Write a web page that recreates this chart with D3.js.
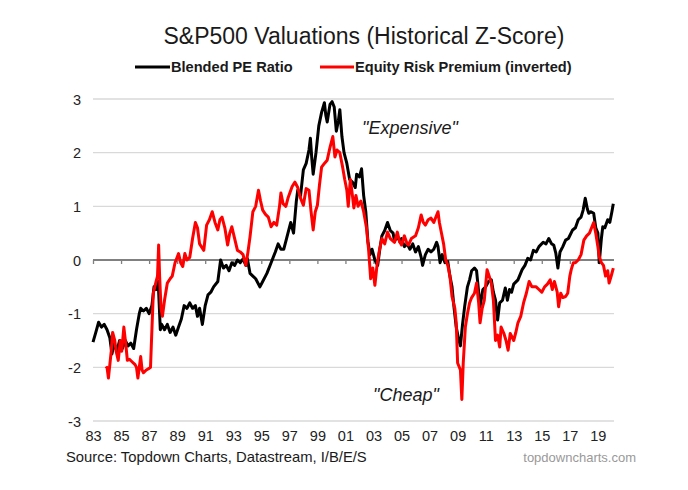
<!DOCTYPE html>
<html>
<head>
<meta charset="utf-8">
<script src="https://cdn.jsdelivr.net/npm/d3@7"></script>
<style>
  html, body { margin: 0; padding: 0; background: #fff; }
  svg { display: block; font-family: "Liberation Sans", Arial, sans-serif; }
</style>
</head>
<body>
<svg id="chart" width="688" height="490"></svg>
<script>
const title = "S&P500 Valuations (Historical Z-Score)";
const seriesNames = ["Blended PE Ratio", "Equity Risk Premium (inverted)"];
const seriesColors = ["#000000", "#ff0000"];
const yTicks = [-3, -2, -1, 0, 1, 2, 3];
const xTickYears = [1983, 1985, 1987, 1989, 1991, 1993, 1995, 1997, 1999, 2001, 2003, 2005, 2007, 2009, 2011, 2013, 2015, 2017, 2019];
const xTickLabels = ["83","85","87","89","91","93","95","97","99","01","03","05","07","09","11","13","15","17","19"];

const peDates = [1983.0,1983.2,1983.4,1983.6,1983.8,1984.0,1984.2,1984.35,1984.5,1984.7,1984.9,1985.1,1985.3,1985.5,1985.7,1985.9,1986.1,1986.3,1986.4,1986.6,1986.8,1987.0,1987.2,1987.35,1987.5,1987.65,1987.8,1987.9,1988.1,1988.3,1988.5,1988.7,1988.9,1989.1,1989.3,1989.5,1989.7,1989.9,1990.1,1990.3,1990.45,1990.6,1990.8,1991.0,1991.2,1991.4,1991.6,1991.9,1992.1,1992.3,1992.5,1992.7,1992.9,1993.1,1993.3,1993.5,1993.7,1993.9,1994.0,1994.2,1994.4,1994.6,1994.9,1995.1,1995.4,1995.7,1996.0,1996.2,1996.4,1996.6,1996.8,1997.1,1997.3,1997.5,1997.6,1997.8,1998.0,1998.2,1998.4,1998.5,1998.6,1998.7,1998.9,1999.1,1999.3,1999.5,1999.6,1999.7,1999.9,2000.05,2000.2,2000.35,2000.5,2000.6,2000.75,2000.9,2001.1,2001.3,2001.5,2001.7,2001.8,2002.0,2002.15,2002.3,2002.45,2002.6,2002.75,2002.9,2003.1,2003.3,2003.45,2003.6,2003.8,2004.0,2004.2,2004.4,2004.5,2004.7,2004.9,2005.0,2005.2,2005.4,2005.6,2005.8,2006.0,2006.2,2006.4,2006.5,2006.7,2006.9,2007.1,2007.3,2007.5,2007.6,2007.75,2007.9,2008.1,2008.3,2008.45,2008.6,2008.75,2008.9,2009.05,2009.2,2009.35,2009.5,2009.7,2009.85,2010.0,2010.2,2010.35,2010.5,2010.6,2010.8,2011.0,2011.2,2011.4,2011.55,2011.7,2011.85,2012.0,2012.2,2012.4,2012.55,2012.7,2012.85,2013.0,2013.3,2013.6,2013.8,2014.0,2014.2,2014.4,2014.6,2014.8,2015.1,2015.3,2015.5,2015.7,2015.85,2016.0,2016.15,2016.3,2016.5,2016.7,2016.9,2017.2,2017.4,2017.6,2017.8,2017.95,2018.1,2018.25,2018.35,2018.5,2018.7,2018.85,2019.0,2019.1,2019.25,2019.35,2019.5,2019.7,2019.85,2020.0,2020.1];
const peValues = [-1.53,-1.35,-1.16,-1.25,-1.2,-1.3,-1.45,-1.75,-1.55,-1.7,-1.5,-1.65,-1.5,-1.6,-1.55,-1.65,-1.3,-1.0,-0.9,-0.95,-0.9,-1.0,-0.85,-0.5,-0.55,-0.4,-1.3,-1.2,-1.3,-1.2,-1.35,-1.25,-1.4,-1.25,-1.1,-0.85,-0.9,-0.8,-0.9,-0.85,-1.05,-0.9,-1.2,-0.85,-0.65,-0.6,-0.5,-0.4,0.0,-0.15,-0.1,-0.2,-0.05,-0.1,0.0,-0.05,0.02,-0.1,0.03,-0.25,-0.3,-0.35,-0.5,-0.4,-0.25,-0.05,0.15,0.3,0.2,0.2,0.4,0.7,0.5,1.1,1.3,1.2,1.68,1.8,2.05,2.27,1.9,1.6,2.0,2.5,2.75,2.93,2.7,2.57,2.9,2.95,2.85,2.4,2.6,2.8,2.3,2.0,1.8,1.5,1.45,1.35,1.6,1.55,1.7,1.2,0.9,0.35,0.1,0.2,0.0,-0.1,0.2,0.45,0.55,0.7,0.55,0.5,0.35,0.45,0.33,0.4,0.25,0.3,0.2,0.3,0.15,0.25,0.05,-0.1,0.1,0.2,0.15,0.2,0.33,0.25,-0.05,0.1,-0.05,-0.03,-0.3,-0.5,-0.9,-1.25,-1.45,-1.6,-1.2,-0.87,-0.5,-0.37,-0.2,-0.15,-0.2,-0.6,-0.87,-0.55,-0.5,-0.4,-0.37,-0.6,-0.75,-1.12,-0.8,-0.75,-0.52,-0.75,-0.55,-0.6,-0.45,-0.37,-0.18,-0.1,0.03,0.0,0.18,0.15,0.25,0.33,0.3,0.4,0.3,0.28,0.13,-0.15,0.15,0.25,0.37,0.4,0.56,0.6,0.75,0.8,0.93,1.15,0.95,0.87,0.9,0.87,0.6,0.5,-0.05,0.4,0.62,0.6,0.75,0.7,0.9,1.05];

const erpDates = [1983.9,1984.0,1984.1,1984.3,1984.4,1984.55,1984.65,1984.8,1984.95,1985.05,1985.2,1985.35,1985.45,1985.6,1985.8,1986.0,1986.1,1986.2,1986.3,1986.4,1986.5,1986.6,1986.8,1987.0,1987.1,1987.2,1987.3,1987.5,1987.6,1987.68,1987.75,1987.85,1987.95,1988.1,1988.3,1988.5,1988.65,1988.85,1989.0,1989.1,1989.25,1989.4,1989.55,1989.7,1989.9,1990.1,1990.3,1990.45,1990.6,1990.9,1991.1,1991.3,1991.5,1991.7,1991.9,1992.05,1992.2,1992.4,1992.6,1992.75,1992.9,1993.1,1993.3,1993.5,1993.7,1993.9,1994.05,1994.2,1994.4,1994.6,1994.8,1994.95,1995.1,1995.3,1995.5,1995.7,1995.9,1996.1,1996.3,1996.4,1996.55,1996.75,1996.9,1997.2,1997.4,1997.6,1997.8,1998.0,1998.2,1998.4,1998.55,1998.7,1998.85,1999.0,1999.15,1999.3,1999.5,1999.7,1999.9,2000.1,2000.25,2000.4,2000.6,2000.8,2000.95,2001.1,2001.2,2001.35,2001.5,2001.6,2001.75,2001.9,2002.1,2002.3,2002.5,2002.65,2002.8,2002.95,2003.1,2003.25,2003.4,2003.6,2003.8,2004.0,2004.2,2004.5,2004.7,2004.85,2005.0,2005.2,2005.4,2005.5,2005.7,2006.0,2006.2,2006.4,2006.55,2006.7,2006.9,2007.1,2007.3,2007.45,2007.6,2007.7,2007.85,2008.0,2008.15,2008.3,2008.45,2008.6,2008.8,2008.9,2009.0,2009.2,2009.3,2009.4,2009.55,2009.7,2009.85,2010.0,2010.2,2010.35,2010.5,2010.6,2010.75,2010.9,2011.1,2011.25,2011.4,2011.55,2011.7,2011.85,2012.0,2012.1,2012.3,2012.45,2012.6,2012.75,2013.0,2013.15,2013.3,2013.5,2013.7,2013.9,2014.1,2014.3,2014.6,2014.8,2015.0,2015.2,2015.4,2015.6,2015.75,2015.9,2016.1,2016.2,2016.35,2016.5,2016.7,2016.85,2017.0,2017.1,2017.25,2017.4,2017.6,2017.8,2018.0,2018.2,2018.4,2018.55,2018.7,2018.85,2019.0,2019.1,2019.25,2019.4,2019.55,2019.7,2019.8,2019.95,2020.1];
const erpValues = [-2.02,-2.0,-2.2,-1.7,-1.35,-1.5,-1.7,-1.87,-1.5,-1.7,-1.25,-1.6,-1.87,-1.85,-1.9,-1.95,-2.0,-2.2,-2.0,-1.8,-2.05,-2.1,-2.05,-2.02,-2.0,-1.3,-0.62,-0.4,-0.3,0.28,-0.3,-0.9,-1.05,-0.75,-0.43,-0.35,-0.3,-0.05,0.05,0.12,-0.05,-0.12,0.12,0.0,0.05,0.4,0.7,0.6,0.3,0.18,0.65,0.75,0.9,0.7,0.56,0.75,0.8,0.6,0.28,0.5,0.62,0.4,0.18,0.15,0.1,-0.1,0.15,0.44,0.9,1.0,1.3,1.1,0.93,0.85,0.8,0.62,0.7,0.65,1.0,1.25,1.05,1.0,1.15,1.37,1.45,1.35,1.15,1.02,1.33,1.3,0.9,0.56,0.9,1.02,1.4,1.73,1.8,1.86,2.1,2.3,1.92,2.05,2.0,1.73,1.5,1.3,1.0,1.5,1.2,0.97,1.2,1.0,1.1,0.9,0.6,0.2,-0.35,-0.15,-0.47,-0.1,0.15,0.4,0.3,0.52,0.4,0.33,0.52,0.35,0.28,0.45,0.3,0.28,0.4,0.45,0.6,0.84,0.7,0.65,0.75,0.78,0.7,0.8,0.9,0.7,0.5,0.3,0.0,-0.1,-0.3,-0.68,-0.9,-1.17,-1.92,-2.05,-2.6,-1.92,-1.25,-1.0,-0.8,-0.7,-0.62,-0.43,-0.8,-1.17,-0.9,-0.75,-0.18,-0.3,-0.43,-0.75,-1.5,-1.4,-1.62,-1.25,-1.37,-1.5,-1.68,-1.37,-1.5,-1.35,-1.17,-1.05,-0.8,-0.62,-0.4,-0.5,-0.5,-0.55,-0.6,-0.5,-0.45,-0.37,-0.55,-0.4,-0.6,-0.87,-0.62,-0.7,-0.68,-0.62,-0.3,-0.18,-0.05,-0.05,0.0,0.1,0.37,0.45,0.5,0.6,0.7,0.5,0.25,0.06,-0.05,-0.1,-0.3,-0.2,-0.43,-0.3,-0.15];

const svg = d3.select("#chart");
const x = d3.scaleLinear().domain([1983, 2020.15]).range([93, 614]);
const y = d3.scaleLinear().domain([-3, 3]).range([421, 99]);
const FONT = "Liberation Sans, Arial, sans-serif";

// gridlines
svg.append("g").selectAll("line").data(yTicks.filter(d => d !== 0)).join("line")
  .attr("x1", x(1983)).attr("x2", x(2020.15))
  .attr("y1", d => y(d)).attr("y2", d => y(d))
  .attr("stroke", "#d9d9d9").attr("stroke-width", 1.3);

// y labels
const yAxis = d3.axisLeft(y).tickValues(yTicks).tickSize(0).tickPadding(0).tickFormat(d => String(d));
const gy = svg.append("g").attr("transform", "translate(81,0)").call(yAxis);
gy.select(".domain").remove();
gy.selectAll("text").attr("font-size", 14.5).attr("fill", "#222").attr("font-family", FONT).attr("dy", "0.35em");

// zero axis line with ticks
const xAxis = d3.axisBottom(x).tickValues(xTickYears).tickSize(4).tickFormat("");
const gx = svg.append("g").attr("transform", `translate(0,${y(0)})`).call(xAxis);
gx.select(".domain").attr("stroke", "#808080").attr("stroke-width", 2).attr("d", `M${x(1983)},0H${x(2020.15)}`);
gx.selectAll(".tick line").attr("stroke", "#808080").attr("stroke-width", 1.3);

// x labels at bottom
const xLab = d3.axisBottom(x).tickValues(xTickYears).tickSize(0).tickPadding(0)
  .tickFormat((d, i) => xTickLabels[i]);
const gxl = svg.append("g").attr("transform", "translate(0,431)").call(xLab);
gxl.select(".domain").remove();
gxl.selectAll("text").attr("font-size", 14.5).attr("fill", "#222").attr("font-family", FONT);

// lines
const line = d3.line().x(d => x(d[0])).y(d => y(d[1]));
const peData = peDates.map((d, i) => [d, peValues[i]]);
const erpData = erpDates.map((d, i) => [d, erpValues[i]]);
svg.append("path").datum(peData).attr("d", line).attr("fill", "none")
  .attr("stroke", seriesColors[0]).attr("stroke-width", 3).attr("stroke-linejoin", "round");
svg.append("path").datum(erpData).attr("d", line).attr("fill", "none")
  .attr("stroke", seriesColors[1]).attr("stroke-width", 3).attr("stroke-linejoin", "round");

// title
svg.append("text").attr("x", 364).attr("y", 44).attr("text-anchor", "middle")
  .attr("font-size", 23).attr("fill", "#1a1a1a").text(title);

// legend
const legendItems = [
  {x1: 135, x2: 170, tx: 171, name: seriesNames[0], color: seriesColors[0]},
  {x1: 320, x2: 354, tx: 355, name: seriesNames[1], color: seriesColors[1]}
];
legendItems.forEach(it => {
  svg.append("line").attr("x1", it.x1).attr("x2", it.x2).attr("y1", 67).attr("y2", 67)
    .attr("stroke", it.color).attr("stroke-width", 3);
  svg.append("text").attr("x", it.tx).attr("y", 72).attr("font-size", 14.6).attr("font-weight", "bold")
    .attr("fill", "#1a1a1a").text(it.name);
});

// annotations
svg.append("text").attr("x", 362).attr("y", 134).attr("font-size", 18).attr("font-style", "italic")
  .attr("fill", "#1a1a1a").text("\"Expensive\"");
svg.append("text").attr("x", 373).attr("y", 401).attr("font-size", 18).attr("font-style", "italic")
  .attr("fill", "#1a1a1a").text("\"Cheap\"");

// footer
svg.append("text").attr("x", 66).attr("y", 462).attr("font-size", 14.8).attr("fill", "#1a1a1a")
  .text("Source: Topdown Charts, Datastream, I/B/E/S");
svg.append("text").attr("x", 636).attr("y", 462).attr("text-anchor", "end").attr("font-size", 13)
  .attr("fill", "#999").text("topdowncharts.com");
</script>
</body>
</html>
